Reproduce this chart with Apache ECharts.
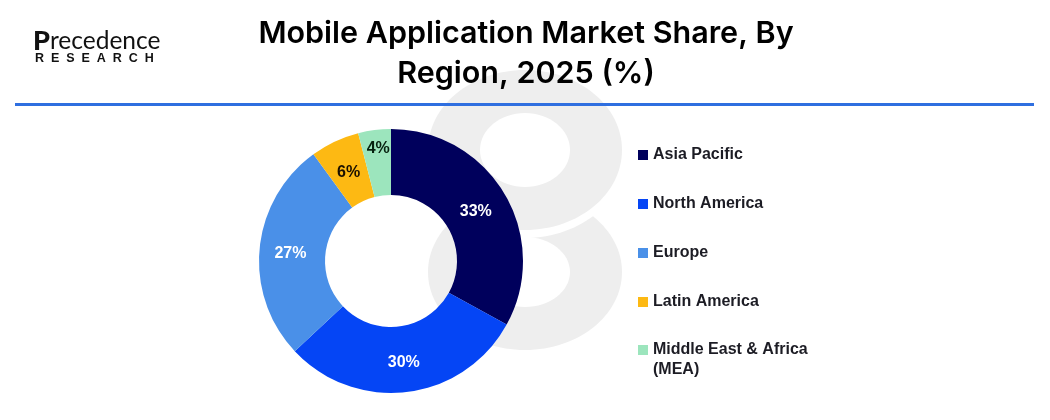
<!DOCTYPE html>
<html>
<head>
<meta charset="utf-8">
<style>html,body{margin:0;padding:0;background:#fff}#main{width:1050px;height:420px}</style>
<script src="https://cdn.jsdelivr.net/npm/echarts@6/dist/echarts.min.js"></script>
</head>
<body>
<div id="main"></div>
<script>
var regions = ['Asia Pacific', 'North America', 'Europe', 'Latin America', 'Middle East & Africa (MEA)'];
var shares = [33, 30, 27, 6, 4];
var sliceColors = ['#00005c', '#0545f5', '#4a90e8', '#fdb913', '#9ce5bd'];
var labelColors = ['#ffffff', '#ffffff', '#ffffff', '#1a1000', '#06210f'];
var labelOffsets = [[-3, 3], [0, 0], [1, 2], [1, 4], [0, -11]];
var titleText = 'Mobile Application Market Share, By\nRegion, 2025 (%)';

var myChart = echarts.init(document.getElementById('main'));

var legendBase = {
    orient: 'vertical',
    left: 633,
    icon: 'rect',
    itemWidth: 10,
    itemHeight: 10,
    itemGap: 29,
    // blank first line keeps the square level with "Middle East & Africa"
    formatter: function (name) {
        return name.indexOf(' (MEA)') > 0 ? ' \n' + name.replace(' (MEA)', '\n(MEA)') : name;
    },
    textStyle: {
        fontFamily: 'Liberation Sans',
        fontSize: 16,
        fontWeight: 'bold',
        color: '#1c1c24',
        lineHeight: 20
    }
};

var option = {
    backgroundColor: '#ffffff',
    animation: false,
    title: {
        text: titleText,
        left: 521,
        top: 9,
        textAlign: 'center',
        textStyle: {
            fontFamily: 'Inter',
            fontSize: 30.5,
            fontWeight: 600,
            lineHeight: 40,
            color: '#000000'
        }
    },
    legend: [
        Object.assign({}, legendBase, { top: 140, data: regions.slice(0, 4) }),
        Object.assign({}, legendBase, { top: 315, data: regions.slice(4) })
    ],
    series: [
        {
            type: 'pie',
            center: [391, 261],
            radius: [66, 132],
            startAngle: 90,
            clockwise: true,
            z: 5,
            itemStyle: { borderWidth: 0 },
            labelLine: { show: false },
            label: {
                show: true,
                position: 'inside',
                fontFamily: 'Liberation Sans',
                fontSize: 16,
                fontWeight: 'bold',
                formatter: '{c}%'
            },
            data: regions.map(function (name, i) {
                return {
                    name: name,
                    value: shares[i],
                    itemStyle: { color: sliceColors[i] },
                    label: { color: labelColors[i], offset: labelOffsets[i] }
                };
            })
        }
    ],
    graphic: [
        // watermark behind the donut
        { type: 'ellipse', z: -5, shape: { cx: 525, cy: 272, rx: 97, ry: 78 }, style: { fill: '#eeeeee' } },
        { type: 'ellipse', z: -4, shape: { cx: 525, cy: 272, rx: 45, ry: 35 }, style: { fill: '#ffffff' } },
        { type: 'ellipse', z: -3, shape: { cx: 525, cy: 150, rx: 103, ry: 88 }, style: { fill: '#ffffff' } },
        { type: 'ellipse', z: -2, shape: { cx: 525, cy: 150, rx: 97, ry: 80 }, style: { fill: '#eeeeee' } },
        { type: 'ellipse', z: -1, shape: { cx: 525, cy: 150, rx: 45, ry: 37 }, style: { fill: '#ffffff' } },
        // header rule
        { type: 'rect', z: 1, shape: { x: 15, y: 103, width: 1019, height: 3 }, style: { fill: '#2f6fe0' } },
        // logo
        {
            type: 'text', z: 2, left: 33, top: 28,
            style: {
                text: '{p|P}{r|recedence}',
                rich: {
                    p: { fontFamily: 'Lato', fontSize: 27, fontWeight: 900, fill: '#111111' },
                    r: { fontFamily: 'Lato', fontSize: 24.5, fontWeight: 400, fill: '#111111' }
                }
            }
        },
        { type: 'text', z: 2, left: 35, top: 52, style: { text: 'R  E  S  E  A  R  C  H', fontFamily: 'Liberation Sans', fontSize: 12.5, fontWeight: 'bold', fill: '#111111' } }
    ]
};

myChart.setOption(option);
</script>
</body>
</html>
